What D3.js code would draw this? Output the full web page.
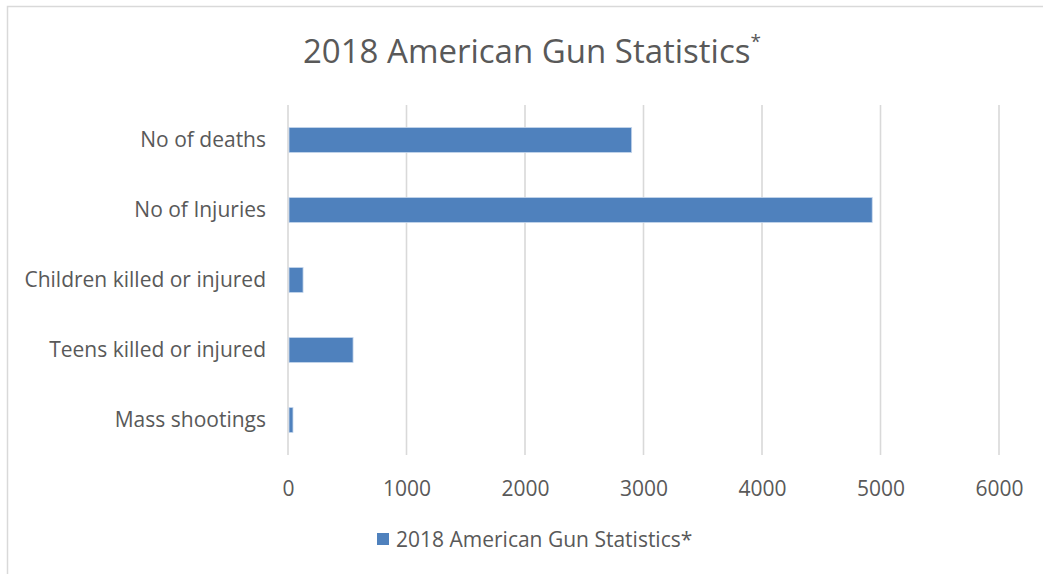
<!DOCTYPE html>
<html>
<head>
<meta charset="utf-8">
<script src="https://cdn.jsdelivr.net/npm/d3@7"></script>
<style>
  body { margin: 0; background: #fff; }
  text { font-family: "Open Sans", "Noto Sans", sans-serif; fill: #595959; }
</style>
</head>
<body>
<script>
const categories = ["No of deaths", "No of Injuries", "Children killed or injured", "Teens killed or injured", "Mass shootings"];
const values = [2900, 4930, 127, 549, 42];
const xTicks = [0, 1000, 2000, 3000, 4000, 5000, 6000];
const seriesName = "2018 American Gun Statistics*";

const W = 1043, H = 574;
const plot = {left: 288, right: 999, top: 105, bottom: 455};

const svg = d3.select("body").append("svg")
  .attr("width", W)
  .attr("height", H);

// chart frame (cut off at right and bottom in the original)
svg.append("rect")
  .attr("x", 7.5).attr("y", 6.5)
  .attr("width", W + 20).attr("height", H + 20)
  .attr("fill", "#fff")
  .attr("stroke", "#d9d9d9")
  .attr("stroke-width", 1.5);

const x = d3.scaleLinear().domain([0, 6000]).range([plot.left, plot.right]);
const y = d3.scaleBand().domain(categories).range([plot.top, plot.bottom])
  .paddingInner(0.643).paddingOuter(0.3215);

// gridlines
svg.append("g")
  .selectAll("line")
  .data(xTicks)
  .enter().append("line")
  .attr("x1", d => x(d)).attr("x2", d => x(d))
  .attr("y1", plot.top).attr("y2", plot.bottom)
  .attr("stroke", "#d9d9d9")
  .attr("stroke-width", 1.6);

// bars
svg.append("g")
  .selectAll("rect")
  .data(categories)
  .enter().append("rect")
  .attr("x", x(0) + 1)
  .attr("y", d => y(d))
  .attr("width", (d, i) => x(values[i]) - x(0) - 1)
  .attr("height", y.bandwidth())
  .attr("fill", "#4f81bd")
  .attr("stroke", "#c5d6ec")
  .attr("stroke-width", 0.8);

// x axis labels
const xAxis = d3.axisBottom(x).tickValues(xTicks).tickSize(0).tickPadding(0).tickFormat(d3.format("d"));
const gx = svg.append("g")
  .attr("transform", `translate(0,${plot.bottom})`)
  .call(xAxis);
gx.select(".domain").remove();
gx.selectAll("text")
  .attr("dy", null)
  .attr("y", 41)
  .style("font-size", "21px")
  .style("font-family", null)
  .attr("fill", "#595959");

// y axis labels
const yAxis = d3.axisLeft(y).tickSize(0).tickPadding(0);
const gy = svg.append("g")
  .attr("transform", `translate(266,0)`)
  .call(yAxis);
gy.select(".domain").remove();
gy.selectAll("text")
  .attr("dy", "0.35em")
  .style("font-size", "21px")
  .style("font-family", null)
  .attr("fill", "#595959");

// title
const title = svg.append("text")
  .attr("x", 303)
  .attr("y", 63)
  .attr("text-anchor", "start")
  .style("font-size", "33px");
title.append("tspan").text("2018 American Gun Statistics");
title.append("tspan").attr("dy", -15).style("font-size", "19px").text("*");

// legend
const legend = svg.append("g").attr("transform", "translate(377,533)");
legend.append("rect")
  .attr("width", 12).attr("height", 12)
  .attr("fill", "#4f81bd");
legend.append("text")
  .attr("x", 19).attr("y", 14)
  .style("font-size", "21px")
  .text(seriesName);
</script>
</body>
</html>
